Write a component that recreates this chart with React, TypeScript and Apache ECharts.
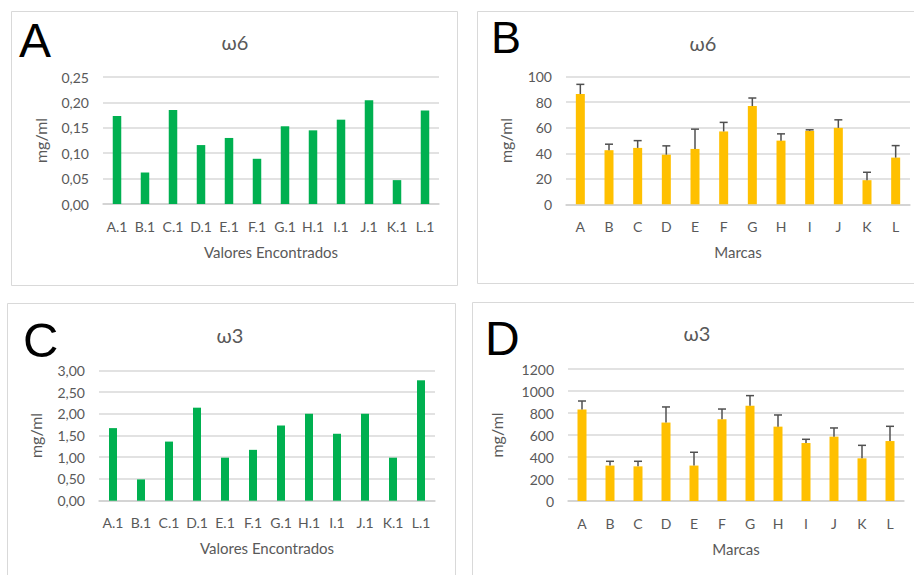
import React, { useEffect, useRef } from "react";
import * as echarts from "echarts";

const catsA = ["A.1", "B.1", "C.1", "D.1", "E.1", "F.1", "G.1", "H.1", "I.1", "J.1", "K.1", "L.1"];
const catsB = ["A", "B", "C", "D", "E", "F", "G", "H", "I", "J", "K", "L"];

const w6Found = [0.173, 0.062, 0.185, 0.116, 0.13, 0.089, 0.153, 0.145, 0.166, 0.204, 0.047, 0.184];
const w6Brand = [86.4, 42.4, 44.2, 38.9, 43.4, 57.1, 77.0, 49.9, 57.6, 59.9, 18.9, 36.6];
const w6BrandErr = [7.6, 4.7, 5.7, 6.9, 15.5, 7.1, 6.3, 5.3, 0.8, 6.3, 6.2, 9.4];

const w3Found = [1.67, 0.49, 1.36, 2.14, 0.99, 1.17, 1.73, 2.0, 1.54, 2.0, 0.99, 2.77];
const w3Brand = [831, 322, 315, 713, 322, 743, 867, 676, 527, 585, 388, 545];
const w3BrandErr = [78, 39, 46, 142, 121, 93, 91, 106, 34, 79, 118, 134];

const FONT = "Lato";
const GRAY = "#595959";
const GREEN = "#00B050";
const GOLD = "#FFC000";

export default function App() {
  const ref = useRef<HTMLDivElement>(null);
  useEffect(() => {
    if (!ref.current) return;
    const chart = echarts.init(ref.current, null, { renderer: "svg" });

    const grids = [
      { left: 103, right: 475, top: 77, bottom: 371 },
      { left: 566, right: 4, top: 76.7, bottom: 370.7 },
      { left: 99, right: 479, top: 370.3, bottom: 74.3 },
      { left: 568, right: 10, top: 369, bottom: 74 },
    ];

    const xAxisName = ["Valores Encontrados", "Marcas", "Valores Encontrados", "Marcas"];
    const xCats = [catsA, catsB, catsA, catsB];
    const yCfg = [
      { max: 0.25, interval: 0.05, dec: 2 },
      { max: 100, interval: 20, dec: 0 },
      { max: 3, interval: 0.5, dec: 2 },
      { max: 1200, interval: 200, dec: 0 },
    ];
    const yNameGap = [55, 53, 56, 64];

    const xAxis = xCats.map((c, i) => ({
      type: "category",
      gridIndex: i,
      data: c,
      axisTick: { show: false },
      axisLine: { lineStyle: { color: "#D0D0D0", width: 1.5 } },
      axisLabel: { color: GRAY, fontFamily: FONT, fontSize: 14, margin: 15, interval: 0 },
      name: xAxisName[i],
      nameLocation: "middle",
      nameGap: 40,
      nameTextStyle: { color: GRAY, fontFamily: FONT, fontSize: 15 },
    }));

    const yAxis = yCfg.map((y, i) => ({
      type: "value",
      gridIndex: i,
      min: 0,
      max: y.max,
      interval: y.interval,
      axisLine: { show: false },
      axisTick: { show: false },
      splitLine: { lineStyle: { color: "#D9D9D9", width: 1.5 } },
      axisLabel: {
        color: GRAY,
        fontFamily: FONT,
        fontSize: 14,
        margin: 14,
        formatter: (v: number) => v.toFixed(y.dec).replace(".", ","),
      },
      name: "mg/ml",
      nameLocation: "middle",
      nameGap: yNameGap[i],
      nameTextStyle: { color: GRAY, fontFamily: FONT, fontSize: 16 },
    }));

    const errSeries = (vals: number[], errs: number[], idx: number) => ({
      type: "custom",
      xAxisIndex: idx,
      yAxisIndex: idx,
      z: 5,
      data: vals.map((v, i) => [i, v, v + errs[i]]),
      renderItem: (params: any, api: any) => {
        const base = api.coord([api.value(0), api.value(1)]);
        const top = api.coord([api.value(0), api.value(2)]);
        const style = { stroke: "#505050", lineWidth: 1.5 };
        return {
          type: "group",
          children: [
            { type: "line", shape: { x1: base[0], y1: base[1], x2: top[0], y2: top[1] }, style },
            { type: "line", shape: { x1: top[0] - 4, y1: top[1], x2: top[0] + 4, y2: top[1] }, style },
          ],
        };
      },
    });

    const titleText = (txt: string, x: number, y: number) => ({
      type: "text",
      x,
      y,
      style: { text: txt, fontFamily: FONT, fontSize: 20, fill: GRAY, align: "center", verticalAlign: "middle" },
    });
    const letter = (txt: string, x: number, y: number, size: number) => ({
      type: "text",
      x,
      y,
      style: { text: txt, fontFamily: "Liberation Sans", fontSize: size, fill: "#000", align: "left", verticalAlign: "middle" },
    });
    const box = (x: number, y: number, w: number, h: number) => ({
      type: "rect",
      shape: { x: x + 0.5, y: y + 0.5, width: w, height: h },
      style: { fill: "none", stroke: "#D9D9D9", lineWidth: 1 },
      silent: true,
    });

    chart.setOption({
      animation: false,
      backgroundColor: "#fff",
      grid: grids,
      xAxis,
      yAxis,
      series: [
        { type: "bar", xAxisIndex: 0, yAxisIndex: 0, data: w6Found, barWidth: 8.5, itemStyle: { color: GREEN } },
        { type: "bar", xAxisIndex: 1, yAxisIndex: 1, data: w6Brand, barWidth: 9, itemStyle: { color: GOLD } },
        errSeries(w6Brand, w6BrandErr, 1),
        { type: "bar", xAxisIndex: 2, yAxisIndex: 2, data: w3Found, barWidth: 8, itemStyle: { color: GREEN } },
        { type: "bar", xAxisIndex: 3, yAxisIndex: 3, data: w3Brand, barWidth: 9, itemStyle: { color: GOLD } },
        errSeries(w3Brand, w3BrandErr, 3),
      ],
      graphic: [
        box(11, 11, 446, 274),
        box(477, 11, 440, 272),
        box(7, 303, 448, 290),
        box(472, 302, 445, 290),
        titleText("ω6", 235, 42),
        titleText("ω6", 703, 43),
        titleText("ω3", 230, 335),
        titleText("ω3", 697, 333),
        letter("A", 19, 40, 48),
        letter("B", 491, 37, 45),
        letter("C", 23, 340, 49),
        letter("D", 485, 338, 48),
      ],
    });
    return () => chart.dispose();
  }, []);
  return <div ref={ref} style={{ position: "fixed", left: 0, top: 0, width: 914, height: 575 }} />;
}
